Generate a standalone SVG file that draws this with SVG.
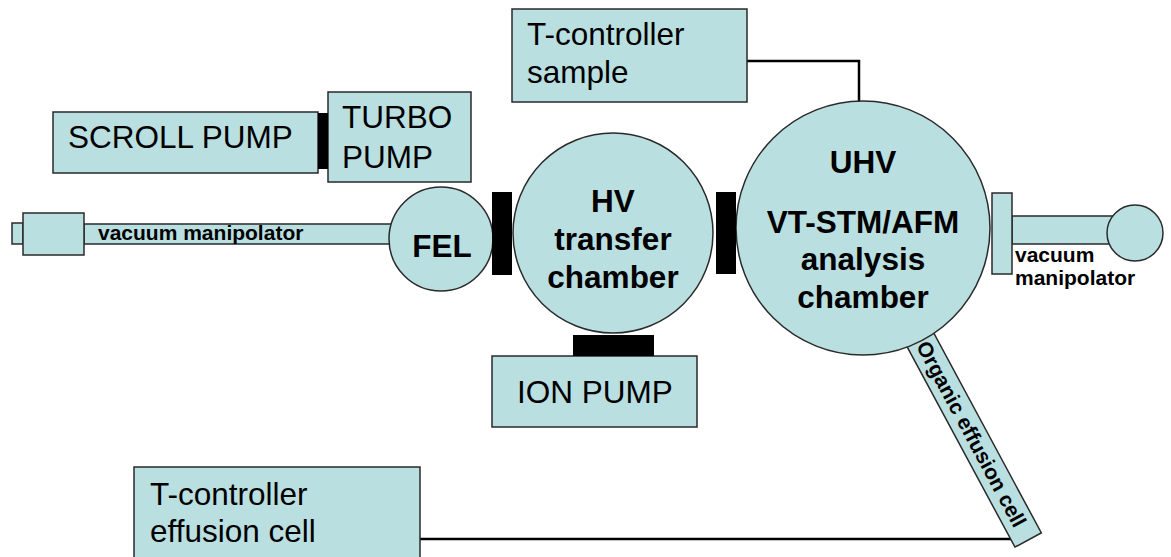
<svg xmlns="http://www.w3.org/2000/svg" width="1171" height="557" viewBox="0 0 1171 557">
<style>
.part{fill:#badfe0;stroke:#2a2a2a;stroke-width:1.5}
.flange{fill:#000}
.wire{fill:none;stroke:#000;stroke-width:2.5}
.t{font-family:"Liberation Sans",Arial,sans-serif;font-size:31.5px;fill:#000}
.b{font-family:"Liberation Sans",Arial,sans-serif;font-weight:bold;font-size:31.5px;fill:#000}
.s{font-family:"Liberation Sans",Arial,sans-serif;font-weight:bold;font-size:21px;fill:#000}
</style>
<rect width="1171" height="557" fill="#fff"/>
<g id="connectors">
<polyline class="wire" points="747,61 859,61 859,102"/>
<polyline class="wire" points="420,539 1012,539"/>
</g>
<g id="organic-effusion-cell">
<g transform="translate(921,341) rotate(61.7)">
<rect class="part" x="-10" y="-15" width="236" height="30"/>
<text class="s" x="2" y="7" font-size="20px">Organic effusion cell</text>
</g>
</g>
<g id="scroll-pump">
<rect class="part" x="53" y="112" width="265" height="61"/>
<text class="t" x="68" y="148">SCROLL PUMP</text>
</g>
<g id="turbo-pump">
<rect class="part" x="328" y="92" width="143" height="90"/>
<text class="t" x="342" y="128">TURBO</text>
<text class="t" x="342" y="168">PUMP</text>
</g>
<g id="vacuum-manipulator-left">
<rect class="part" x="12" y="223" width="11" height="21"/>
<rect class="part" x="84" y="224" width="310" height="20"/>
<rect class="part" x="23" y="213" width="61" height="42"/>
<text class="s" x="98" y="240">vacuum manipolator</text>
</g>
<g id="fel">
<circle class="part" cx="441" cy="239" r="52"/>
<text class="b" x="442" y="257" text-anchor="middle" font-size="33px">FEL</text>
</g>
<g id="ion-pump">
<rect class="part" x="492" y="356" width="205" height="71"/>
<text class="t" x="595" y="403" text-anchor="middle">ION PUMP</text>
</g>
<g id="hv-transfer-chamber">
<circle class="part" cx="613" cy="233" r="100"/>
<text class="b" x="613" y="212" text-anchor="middle">HV</text>
<text class="b" x="613" y="250" text-anchor="middle">transfer</text>
<text class="b" x="613" y="288" text-anchor="middle">chamber</text>
</g>
<g id="vacuum-manipulator-right">
<rect class="part" x="1012" y="216" width="108" height="28"/>
<circle class="part" cx="1135" cy="233" r="28"/>
<rect class="part" x="992" y="193" width="20" height="81"/>
<text class="s" x="1015" y="262">vacuum</text>
<text class="s" x="1015" y="285">manipolator</text>
</g>
<g id="uhv-analysis-chamber">
<circle class="part" cx="863" cy="228" r="127"/>
<text class="b" x="863" y="173" text-anchor="middle">UHV</text>
<text class="b" x="863" y="233" text-anchor="middle">VT-STM/AFM</text>
<text class="b" x="863" y="270" text-anchor="middle">analysis</text>
<text class="b" x="863" y="308" text-anchor="middle">chamber</text>
</g>
<g id="flanges">
<rect class="flange" x="318" y="113" width="10" height="56"/>
<rect class="flange" x="492" y="192" width="20" height="83"/>
<rect class="flange" x="716" y="192" width="20" height="82"/>
<rect class="flange" x="573" y="335" width="81" height="21"/>
</g>
<g id="t-controller-sample">
<rect class="part" x="512" y="9" width="235" height="93"/>
<text class="t" x="527" y="45">T-controller</text>
<text class="t" x="527" y="83">sample</text>
</g>
<g id="t-controller-effusion-cell">
<rect class="part" x="134" y="467" width="286" height="100"/>
<text class="t" x="150" y="505">T-controller</text>
<text class="t" x="150" y="542">effusion cell</text>
</g>
</svg>
